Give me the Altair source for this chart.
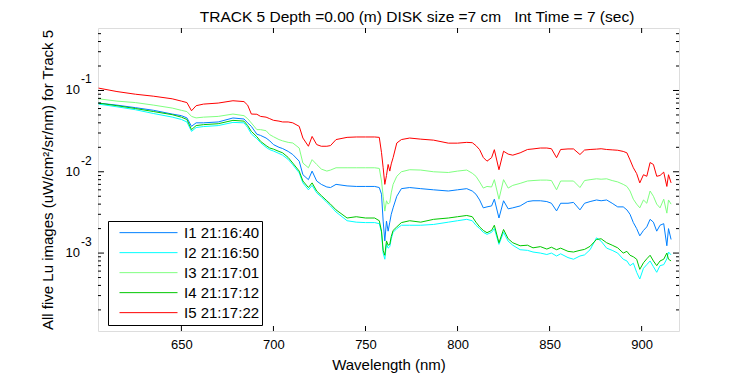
import altair as alt
import pandas as pd

# ---------------- data ----------------
wavelength = [605, 615, 625, 635, 645, 650, 653, 655.5, 658, 662, 670, 678, 684, 686, 688,
              691, 693, 696, 698, 700, 703, 705, 708, 710.5, 714, 716, 719, 721, 723.5, 726,
              729, 731, 734, 740, 745, 750, 755, 757.5, 758.7, 759.6, 760.5, 761.4, 762.3,
              763.2, 764, 765, 767, 769.5, 774, 780, 787, 795, 800, 805, 808, 810, 812, 814,
              816, 818.5, 820, 822.5, 825, 827.5, 830, 834, 838, 841, 845, 848.5, 851, 853.8,
              856, 860, 863, 866.5, 869, 872, 875.5, 878, 881, 884, 887, 890, 892, 893.7,
              895.5, 897.3, 899, 901, 902.8, 904.6, 906.4, 908.2, 910, 912, 913.7, 914.6, 916]

i1 = [0.070, 0.066, 0.0615, 0.057, 0.0513, 0.049, 0.046, 0.0362, 0.040, 0.040, 0.041, 0.0459,
      0.0446, 0.040, 0.0362, 0.029, 0.028, 0.026, 0.024, 0.0216, 0.0200, 0.0193, 0.0178, 0.0163,
      0.0135, 0.0092, 0.0080, 0.0102, 0.0077, 0.0070, 0.0065, 0.0064, 0.0070, 0.0067, 0.0066,
      0.0066, 0.0066, 0.0064, 0.0053, 0.00247, 0.00141, 0.00247, 0.00186, 0.0024, 0.0030,
      0.0036, 0.0050, 0.0062, 0.0064, 0.0062, 0.0060, 0.0058, 0.0060, 0.0062, 0.0058, 0.0053,
      0.0045, 0.0036, 0.0037, 0.0038, 0.0046, 0.0027, 0.0044, 0.0035, 0.0036, 0.0038, 0.0043,
      0.0044, 0.0044, 0.0043, 0.0041, 0.0033, 0.0041, 0.0041, 0.0042, 0.0034, 0.0041, 0.0043,
      0.0045, 0.0044, 0.0045, 0.0041, 0.0037, 0.0037, 0.0034, 0.0030, 0.00237, 0.0020, 0.00163,
      0.0019, 0.0021, 0.0026, 0.0024, 0.00186, 0.0022, 0.0023, 0.00123, 0.0020, 0.00147]

i2 = [0.068, 0.063, 0.058, 0.052, 0.0471, 0.044, 0.041, 0.0314, 0.035, 0.036, 0.037, 0.0405,
      0.040, 0.035, 0.0292, 0.0255, 0.0228, 0.020, 0.0187, 0.0180, 0.0168, 0.0160, 0.0142,
      0.0122, 0.0097, 0.0073, 0.0060, 0.0068, 0.0055, 0.0049, 0.0042, 0.0038, 0.0032, 0.0025,
      0.0024, 0.00237, 0.00237, 0.0023, 0.0018, 0.0010, 0.00084, 0.0013, 0.00115, 0.0012,
      0.0015, 0.0018, 0.0020, 0.0022, 0.0022, 0.0022, 0.00225, 0.0024, 0.0025, 0.0026, 0.0025,
      0.0022, 0.0020, 0.0018, 0.0017, 0.0018, 0.0020, 0.00128, 0.0018, 0.0014, 0.00125, 0.00110,
      0.00108, 0.00103, 0.00100, 0.00096, 0.00100, 0.00092, 0.00098, 0.00088, 0.00084, 0.00092,
      0.00095, 0.00110, 0.00154, 0.00140, 0.00115, 0.00108, 0.00100, 0.00084, 0.00080, 0.00070,
      0.00075, 0.00058, 0.00048, 0.00065, 0.00072, 0.00080, 0.00068, 0.00058, 0.00070, 0.00072,
      0.00085, 0.00103, 0.00095]

i3 = [0.079, 0.074, 0.071, 0.066, 0.0608, 0.057, 0.055, 0.048, 0.046, 0.047, 0.048, 0.0513,
      0.049, 0.045, 0.0398, 0.033, 0.033, 0.032, 0.0286, 0.027, 0.0249, 0.024, 0.023, 0.0226,
      0.0196, 0.0128, 0.0112, 0.0141, 0.0123, 0.0108, 0.0102, 0.0105, 0.0112, 0.0112, 0.0112,
      0.0112, 0.0112, 0.0110, 0.0077, 0.0050, 0.00328, 0.0044, 0.0040, 0.0042, 0.0055, 0.0070,
      0.0088, 0.0100, 0.0106, 0.0105, 0.0100, 0.0098, 0.0102, 0.0105, 0.0096, 0.0088, 0.0075,
      0.0063, 0.0066, 0.0065, 0.0080, 0.0046, 0.0080, 0.0063, 0.0068, 0.0072, 0.0077, 0.0078,
      0.0079, 0.0079, 0.0078, 0.0060, 0.0077, 0.0077, 0.0077, 0.0064, 0.0078, 0.0080, 0.0082,
      0.0081, 0.0082, 0.0078, 0.0075, 0.0070, 0.0066, 0.0058, 0.0046, 0.0040, 0.0036, 0.0045,
      0.0041, 0.0058, 0.0050, 0.0040, 0.0036, 0.0046, 0.0031, 0.0045, 0.0040]

i4 = [0.070, 0.065, 0.060, 0.055, 0.0504, 0.047, 0.044, 0.033, 0.037, 0.038, 0.039, 0.0429,
      0.042, 0.037, 0.0314, 0.027, 0.0237, 0.021, 0.0196, 0.0190, 0.0178, 0.0171, 0.0150,
      0.0128, 0.0102, 0.0077, 0.0064, 0.0073, 0.0058, 0.0051, 0.0044, 0.0040, 0.0034, 0.0027,
      0.0028, 0.0027, 0.0027, 0.0025, 0.00186, 0.00108, 0.00094, 0.00141, 0.00125, 0.00128,
      0.0016, 0.0019, 0.0021, 0.00237, 0.0025, 0.0024, 0.0026, 0.0027, 0.0028, 0.0029, 0.0028,
      0.0024, 0.0021, 0.0019, 0.00178, 0.0019, 0.0022, 0.00134, 0.00195, 0.0015, 0.00134,
      0.00123, 0.00125, 0.00116, 0.00120, 0.00112, 0.00118, 0.00110, 0.00115, 0.00105, 0.00103,
      0.00108, 0.00111, 0.00121, 0.00147, 0.00150, 0.00134, 0.00125, 0.00116, 0.00100, 0.00105,
      0.00094, 0.00090, 0.00084, 0.00063, 0.00076, 0.00085, 0.00094, 0.00080, 0.00070, 0.00080,
      0.00084, 0.00100, 0.00084, 0.00080]

i5 = [0.107, 0.097, 0.090, 0.085, 0.079, 0.074, 0.071, 0.0563, 0.065, 0.068, 0.070, 0.0748,
      0.073, 0.066, 0.0513, 0.051, 0.048, 0.047, 0.045, 0.043, 0.042, 0.041, 0.041, 0.040,
      0.0362, 0.026, 0.0206, 0.0272, 0.0216, 0.0206, 0.0206, 0.0210, 0.0249, 0.0265, 0.0268,
      0.0268, 0.0268, 0.0265, 0.0172, 0.0112, 0.0070, 0.0090, 0.0123, 0.0102, 0.0125, 0.0149,
      0.0226, 0.0249, 0.026, 0.0252, 0.0245, 0.0225, 0.0225, 0.0230, 0.0228, 0.021, 0.0187,
      0.015, 0.0135, 0.0149, 0.0187, 0.0106, 0.0179, 0.0165, 0.0160, 0.0171, 0.0188, 0.0191,
      0.0196, 0.0196, 0.0192, 0.0149, 0.0188, 0.0191, 0.0191, 0.0163, 0.0185, 0.0188, 0.0190,
      0.0192, 0.0188, 0.0186, 0.0184, 0.0178, 0.0171, 0.0140, 0.0112, 0.0095, 0.0073, 0.0092,
      0.0088, 0.013, 0.0123, 0.0088, 0.0090, 0.0099, 0.0066, 0.0092, 0.0073]

series_names = ["I1 21:16:40", "I2 21:16:50", "I3 21:17:01", "I4 21:17:12", "I5 21:17:22"]
series_colors = ["#0080ff", "#00ffff", "#80ff80", "#00c800", "#ff0000"]

x_ticks = [650, 700, 750, 800, 850, 900]
y_major = [0.1, 0.01, 0.001]
y_major_exp = ["-1", "-2", "-3"]
y_minor = [0.5, 0.4, 0.3, 0.2,
           0.09, 0.08, 0.07, 0.06, 0.05, 0.04, 0.03, 0.02,
           0.009, 0.008, 0.007, 0.006, 0.005, 0.004, 0.003, 0.002,
           0.0009, 0.0008, 0.0007, 0.0006, 0.0005, 0.0004, 0.0003, 0.0002]

title_text = "TRACK 5 Depth =0.00 (m) DISK size =7 cm\u00a0\u00a0\u00a0Int Time = 7 (sec)"
y_title = "All five Lu images (uW/cm\u00b2/sr/nm) for Track 5"
x_title = "Wavelength (nm)"

# ---------------- build ----------------
rows = []
for name, vals in zip(series_names, [i1, i2, i3, i4, i5]):
    for w, v in zip(wavelength, vals):
        rows.append({"wl": w, "val": v, "series": name})
df = pd.DataFrame(rows)

W, H = 581, 303
FONT = "Liberation Sans"
xscale = alt.Scale(domain=[604.7, 920.3], nice=False, zero=False)
yscale = alt.Scale(type="log", domain=[1.1e-4, 0.587], nice=False)

x_axis = alt.Axis(title=x_title, values=x_ticks, ticks=False, domain=False, grid=False,
                  labelPadding=7, titlePadding=6, labelFontSize=13, titleFontSize=15,
                  titleFontWeight="normal", labelColor="black", titleColor="black",
                  labelFont=FONT, titleFont=FONT)
y_axis = alt.Axis(title=y_title, labels=False, ticks=False, domain=False, grid=False,
                  titlePadding=43, titleFontSize=15, titleFontWeight="normal",
                  titleColor="black", titleFont=FONT)

lines = alt.Chart(df).mark_line(strokeWidth=1, clip=True).encode(
    x=alt.X("wl:Q", scale=xscale, axis=x_axis),
    y=alt.Y("val:Q", scale=yscale, axis=y_axis),
    color=alt.Color("series:N", scale=alt.Scale(domain=series_names, range=series_colors),
                    legend=alt.Legend(orient="none", legendX=10, legendY=193, title=None,
                                      symbolType="stroke", symbolSize=3364, symbolStrokeWidth=1,
                                      clipHeight=19.3, padding=2, symbolOffset=9, labelOffset=6,
                                      labelFontSize=15, labelFont=FONT, labelColor="black",
                                      fillColor="white", strokeColor="black", rowPadding=0,
                                      columnPadding=0)),
)

xt = pd.DataFrame({"wl": x_ticks})
xt_bottom = alt.Chart(xt).mark_rule(color="black", strokeWidth=1).encode(
    x=alt.X("wl:Q", scale=xscale, axis=x_axis), y=alt.value(H), y2=alt.value(H - 5))
xt_top = alt.Chart(xt).mark_rule(color="black", strokeWidth=1).encode(
    x=alt.X("wl:Q", scale=xscale, axis=x_axis), y=alt.value(0), y2=alt.value(5))

ym = pd.DataFrame({"val": y_major, "e": y_major_exp, "b": ["10"] * len(y_major)})
yn = pd.DataFrame({"val": y_minor})

def yrule(data, x1, x2):
    return alt.Chart(data).mark_rule(color="black", strokeWidth=1).encode(
        y=alt.Y("val:Q", scale=yscale, axis=y_axis), x=alt.value(x1), x2=alt.value(x2))

ticks_y = [yrule(ym, 0, 6), yrule(ym, W, W - 6), yrule(yn, 0, 3), yrule(yn, W, W - 3)]

base_lbl = alt.Chart(ym).mark_text(align="right", baseline="middle", fontSize=13, font=FONT,
                                   color="black").encode(
    y=alt.Y("val:Q", scale=yscale, axis=y_axis), x=alt.value(-18), text="b:N")
exp_lbl = alt.Chart(ym).mark_text(align="left", baseline="middle", fontSize=12, font=FONT,
                                  color="black", dy=-11).encode(
    y=alt.Y("val:Q", scale=yscale, axis=y_axis), x=alt.value(-17), text="e:N")

title_df = pd.DataFrame({"t": [title_text]})
title_lbl = alt.Chart(title_df).mark_text(align="center", baseline="alphabetic", fontSize=15.5,
                                          font=FONT, color="black").encode(
    x=alt.value(319), y=alt.value(-6), text="t:N")

chart = alt.layer(lines, xt_bottom, xt_top, *ticks_y, base_lbl, exp_lbl, title_lbl).properties(
    width=W, height=H,
    autosize=alt.AutoSizeParams(type="none"),
    padding={"left": 90, "top": 20, "right": 60, "bottom": 50},
    background="white",
).configure_view(stroke="black", strokeWidth=1).configure(font=FONT)

chart.save("out.html", embed_options={"renderer": "svg", "actions": False})
